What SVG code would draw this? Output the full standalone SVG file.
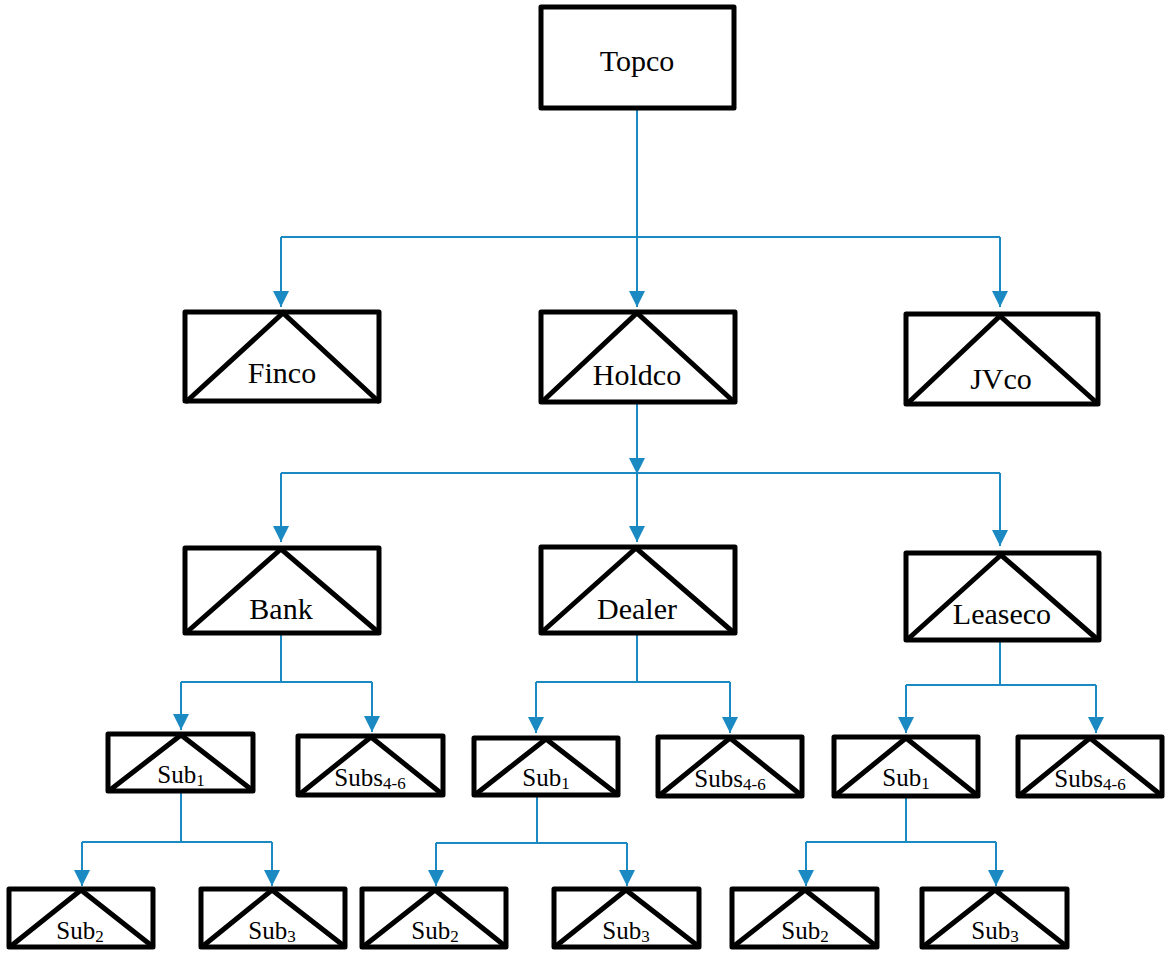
<svg xmlns="http://www.w3.org/2000/svg" width="1166" height="953" viewBox="0 0 1166 953">
<style>
.box{fill:#fff;stroke:#000;stroke-width:5;stroke-linejoin:round}
.tri{fill:none;stroke:#000;stroke-width:5;stroke-linecap:round}
.lbl{font-family:"Liberation Serif","Times New Roman",serif;fill:#000;text-anchor:middle}
.big{font-size:30px}
.sm{font-size:25px}
.sub{font-size:17px}
.con{fill:none;stroke:#1b8ac2;stroke-width:2}
</style>
<defs>
<marker id="ah" markerUnits="userSpaceOnUse" markerWidth="16" markerHeight="16" refX="16" refY="8" orient="auto">
<path d="M0,0 L16,8 L0,16 z" fill="#1b8ac2"/>
</marker>
</defs>
<rect width="1166" height="953" fill="#fff"/>
<g id="connectors">
<path class="con" d="M637,108 V237"/>
<path class="con" d="M281,237 H1000"/>
<path class="con" d="M281,237 V307" marker-end="url(#ah)"/>
<path class="con" d="M637,237 V307" marker-end="url(#ah)"/>
<path class="con" d="M1000,237 V307" marker-end="url(#ah)"/>
<path class="con" d="M637,403 V474" marker-end="url(#ah)"/>
<path class="con" d="M281,473 H1000"/>
<path class="con" d="M281,473 V542" marker-end="url(#ah)"/>
<path class="con" d="M637,473 V542" marker-end="url(#ah)"/>
<path class="con" d="M1000,473 V546" marker-end="url(#ah)"/>
<path class="con" d="M281,634 V682"/>
<path class="con" d="M181,682 H372"/>
<path class="con" d="M181,682 V730" marker-end="url(#ah)"/>
<path class="con" d="M372,682 V732" marker-end="url(#ah)"/>
<path class="con" d="M637,633 V682"/>
<path class="con" d="M536,682 H730"/>
<path class="con" d="M536,682 V733" marker-end="url(#ah)"/>
<path class="con" d="M730,682 V733" marker-end="url(#ah)"/>
<path class="con" d="M1000,640 V685"/>
<path class="con" d="M906,685 H1096"/>
<path class="con" d="M906,685 V733" marker-end="url(#ah)"/>
<path class="con" d="M1096,685 V733" marker-end="url(#ah)"/>
<path class="con" d="M181,791 V842"/>
<path class="con" d="M82,842 H272"/>
<path class="con" d="M82,842 V886" marker-end="url(#ah)"/>
<path class="con" d="M272,842 V886" marker-end="url(#ah)"/>
<path class="con" d="M537,795 V843"/>
<path class="con" d="M436,843 H627"/>
<path class="con" d="M436,843 V886" marker-end="url(#ah)"/>
<path class="con" d="M627,843 V886" marker-end="url(#ah)"/>
<path class="con" d="M906,796 V842"/>
<path class="con" d="M806,842 H996"/>
<path class="con" d="M806,842 V886" marker-end="url(#ah)"/>
<path class="con" d="M996,842 V886" marker-end="url(#ah)"/>
</g>
<g id="topco">
<rect class="box" x="541" y="7" width="193" height="101"/>
<text class="lbl big" x="637" y="71">Topco</text>
</g>
<g id="finco">
<rect class="box" x="185" y="312" width="194" height="89"/>
<path class="tri" d="M187,401 L283,313 L378,401"/>
<text class="lbl big" x="282" y="383">Finco</text>
</g>
<g id="holdco">
<rect class="box" x="541" y="312" width="194" height="90"/>
<path class="tri" d="M543,401 L637,313 L733,401"/>
<text class="lbl big" x="637" y="385">Holdco</text>
</g>
<g id="jvco">
<rect class="box" x="906" y="314" width="192" height="90"/>
<path class="tri" d="M908,403 L1000,316 L1097,403"/>
<text class="lbl big" x="1001" y="389">JVco</text>
</g>
<g id="bank">
<rect class="box" x="185" y="548" width="194" height="85"/>
<path class="tri" d="M187,632 L281,549 L378,632"/>
<text class="lbl big" x="281" y="619">Bank</text>
</g>
<g id="dealer">
<rect class="box" x="541" y="547" width="194" height="86"/>
<path class="tri" d="M542,632 L636,548 L733,632"/>
<text class="lbl big" x="637" y="619">Dealer</text>
</g>
<g id="leaseco">
<rect class="box" x="906" y="553" width="193" height="87"/>
<path class="tri" d="M908,639 L1001,555 L1097,639"/>
<text class="lbl big" x="1002" y="624">Leaseco</text>
</g>
<g id="bank-sub1">
<rect class="box" x="108" y="734" width="145" height="57"/>
<path class="tri" d="M110,790 L181,735 L252,790"/>
<text class="lbl sm" x="181" y="783">Sub<tspan class="sub" dy="3">1</tspan></text>
</g>
<g id="bank-subs46">
<rect class="box" x="298" y="736" width="145" height="59"/>
<path class="tri" d="M300,794 L371,737 L442,794"/>
<text class="lbl sm" x="370" y="786">Subs<tspan class="sub" dy="3">4-6</tspan></text>
</g>
<g id="dealer-sub1">
<rect class="box" x="474" y="738" width="144" height="57"/>
<path class="tri" d="M476,794 L546,739 L617,794"/>
<text class="lbl sm" x="546" y="786">Sub<tspan class="sub" dy="3">1</tspan></text>
</g>
<g id="dealer-subs46">
<rect class="box" x="658" y="737" width="144" height="59"/>
<path class="tri" d="M660,795 L730,738 L801,795"/>
<text class="lbl sm" x="730" y="787">Subs<tspan class="sub" dy="3">4-6</tspan></text>
</g>
<g id="leaseco-sub1">
<rect class="box" x="834" y="737" width="144" height="59"/>
<path class="tri" d="M836,795 L906,738 L977,795"/>
<text class="lbl sm" x="906" y="786">Sub<tspan class="sub" dy="3">1</tspan></text>
</g>
<g id="leaseco-subs46">
<rect class="box" x="1018" y="737" width="144" height="59"/>
<path class="tri" d="M1020,795 L1090,738 L1161,795"/>
<text class="lbl sm" x="1090" y="787">Subs<tspan class="sub" dy="3">4-6</tspan></text>
</g>
<g id="bank-sub2">
<rect class="box" x="9" y="889" width="144" height="58"/>
<path class="tri" d="M11,946 L81,890 L152,946"/>
<text class="lbl sm" x="80" y="939">Sub<tspan class="sub" dy="3">2</tspan></text>
</g>
<g id="bank-sub3">
<rect class="box" x="201" y="889" width="144" height="58"/>
<path class="tri" d="M203,946 L272,890 L344,946"/>
<text class="lbl sm" x="272" y="939">Sub<tspan class="sub" dy="3">3</tspan></text>
</g>
<g id="dealer-sub2">
<rect class="box" x="362" y="889" width="144" height="58"/>
<path class="tri" d="M364,946 L435,890 L505,946"/>
<text class="lbl sm" x="435" y="939">Sub<tspan class="sub" dy="3">2</tspan></text>
</g>
<g id="dealer-sub3">
<rect class="box" x="554" y="889" width="145" height="58"/>
<path class="tri" d="M556,946 L626,890 L698,946"/>
<text class="lbl sm" x="626" y="939">Sub<tspan class="sub" dy="3">3</tspan></text>
</g>
<g id="leaseco-sub2">
<rect class="box" x="732" y="889" width="145" height="58"/>
<path class="tri" d="M734,946 L805,890 L876,946"/>
<text class="lbl sm" x="805" y="939">Sub<tspan class="sub" dy="3">2</tspan></text>
</g>
<g id="leaseco-sub3">
<rect class="box" x="922" y="889" width="145" height="58"/>
<path class="tri" d="M924,946 L995,890 L1066,946"/>
<text class="lbl sm" x="995" y="939">Sub<tspan class="sub" dy="3">3</tspan></text>
</g>
</svg>
